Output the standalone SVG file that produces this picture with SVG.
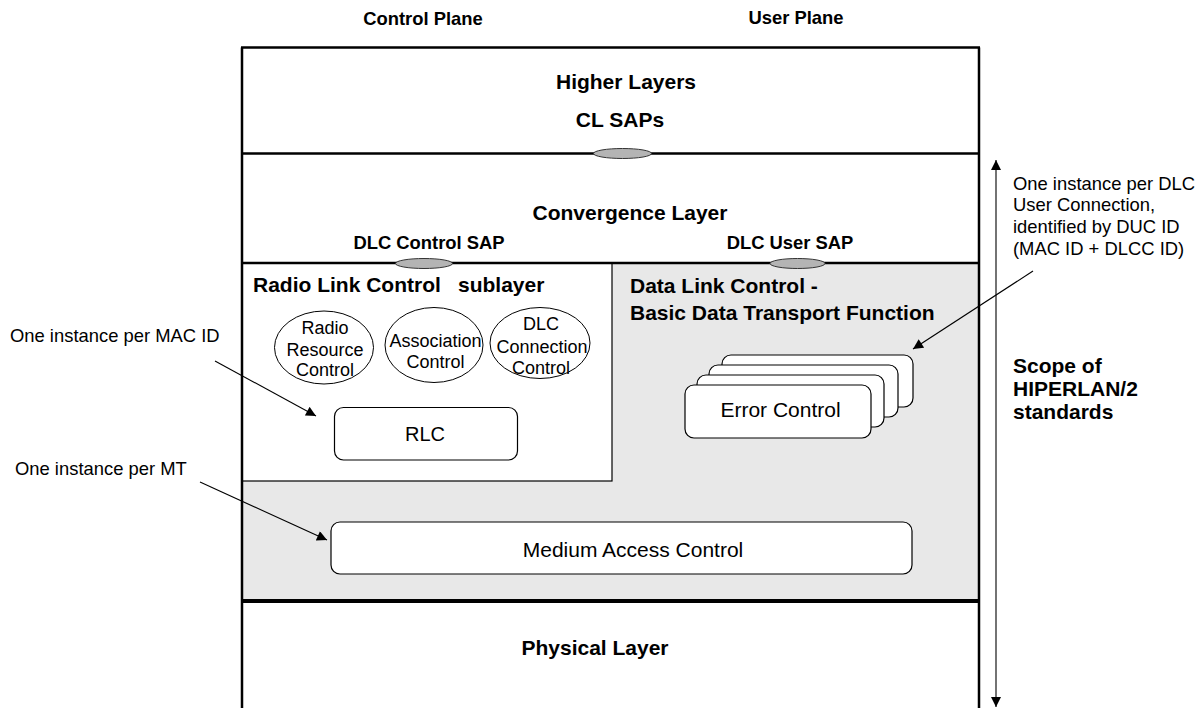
<svg xmlns="http://www.w3.org/2000/svg" width="1203" height="708" viewBox="0 0 1203 708">
<style>
text{font-family:"Liberation Sans",Arial,Helvetica,sans-serif;fill:#000}
.t{font-size:21px;font-weight:bold}
.s{font-size:18.4px;font-weight:bold}
.a{font-size:18.4px}
.e{font-size:18px}
.m{font-size:21px}
.frame{stroke:#000;stroke-width:2.5;fill:none}
.box{fill:#fff;stroke:#000;stroke-width:1.2}
.sap{fill:#b4b4b4;stroke:#333;stroke-width:1}
.con{stroke:#000;stroke-width:1.1;fill:none}
</style>
<defs>
<marker id="ah" viewBox="0 0 10 10" refX="10" refY="5" markerWidth="11" markerHeight="10" markerUnits="userSpaceOnUse" orient="auto-start-reverse">
<path d="M0,0 L10,5 L0,10 z" fill="#000"/>
</marker>
</defs>
<rect width="1203" height="708" fill="#fff"/>
<text class="s" x="423" y="25" text-anchor="middle">Control Plane</text>
<text class="s" x="796" y="24" text-anchor="middle">User Plane</text>
<g id="dlc-layer">
<rect x="242" y="263" width="737" height="338" fill="#e8e8e8"/>
<text class="t" x="630" y="293">Data Link Control -</text>
<text class="t" x="630" y="320">Basic Data Transport Function</text>
</g>
<g id="rlc-sublayer">
<rect x="242" y="263" width="370" height="218" class="box"/>
<text class="t" x="253" y="292">Radio Link Control<tspan x="458">sublayer</tspan></text>
</g>
<g id="frame">
<line x1="242" y1="47.5" x2="242" y2="712" class="frame"/>
<line x1="979" y1="47.5" x2="979" y2="712" class="frame"/>
<line x1="241" y1="47.5" x2="980" y2="47.5" class="frame"/>
<line x1="241" y1="153.5" x2="980" y2="153.5" class="frame"/>
<line x1="241" y1="263" x2="980" y2="263" class="frame"/>
<line x1="241" y1="601" x2="980" y2="601" stroke="#000" stroke-width="4"/>
</g>
<g id="higher-layers">
<text class="t" x="626" y="89" text-anchor="middle">Higher Layers</text>
<text class="t" x="620" y="127" text-anchor="middle">CL SAPs</text>
</g>
<g id="convergence-layer">
<text class="t" x="630" y="220" text-anchor="middle">Convergence Layer</text>
</g>
<g id="cl-sap"><ellipse cx="622.5" cy="153.5" rx="29" ry="5" class="sap"/></g>
<g id="dlc-control-sap">
<text class="s" x="429" y="249" text-anchor="middle">DLC Control SAP</text>
<ellipse cx="424" cy="263.5" rx="28.5" ry="5" class="sap"/>
</g>
<g id="dlc-user-sap">
<text class="s" x="790" y="248.5" text-anchor="middle">DLC User SAP</text>
<ellipse cx="797.5" cy="263.5" rx="27.5" ry="5" class="sap"/>
</g>
<g id="radio-resource-control">
<ellipse cx="324" cy="347.5" rx="49.5" ry="36.5" fill="none" stroke="#000" stroke-width="1"/>
<text class="e" text-anchor="middle"><tspan x="325" y="334">Radio</tspan><tspan x="325" y="356">Resource</tspan><tspan x="325" y="376">Control</tspan></text>
</g>
<g id="association-control">
<ellipse cx="434" cy="345" rx="49" ry="37.5" fill="none" stroke="#000" stroke-width="1"/>
<text class="e" text-anchor="middle"><tspan x="435.5" y="347">Association</tspan><tspan x="435.5" y="368">Control</tspan></text>
</g>
<g id="dlc-connection-control">
<ellipse cx="540" cy="343" rx="50" ry="35.5" fill="none" stroke="#000" stroke-width="1"/>
<text class="e" text-anchor="middle"><tspan x="541" y="330">DLC</tspan><tspan x="542" y="353">Connection</tspan><tspan x="541" y="374">Control</tspan></text>
</g>
<g id="rlc">
<rect x="334.5" y="407.5" width="183" height="52.5" rx="9" class="box"/>
<text class="m" x="425" y="441" text-anchor="middle" style="font-size:20px">RLC</text>
</g>
<g id="error-control">
<rect x="722" y="355" width="191" height="52" rx="9" class="box"/>
<rect x="709" y="365" width="189" height="52" rx="9" class="box"/>
<rect x="697" y="375" width="187" height="52" rx="9" class="box"/>
<rect x="685" y="385" width="186" height="53" rx="9" class="box"/>
<text class="m" x="780.5" y="417" text-anchor="middle">Error Control</text>
</g>
<g id="medium-access-control">
<rect x="331" y="522" width="581" height="52" rx="9" class="box"/>
<text class="m" x="633" y="557" text-anchor="middle">Medium Access Control</text>
</g>
<g id="physical-layer">
<text class="t" x="595" y="655" text-anchor="middle">Physical Layer</text>
</g>
<g id="note-mac-id"><text class="a" x="10" y="342">One instance per MAC ID</text></g>
<g id="note-mt"><text class="a" x="15" y="475">One instance per MT</text></g>
<g id="note-duc">
<text class="a"><tspan x="1013" y="189.5">One instance per DLC</tspan><tspan x="1013" y="211">User Connection,</tspan><tspan x="1013" y="233">identified by DUC ID</tspan><tspan x="1013" y="255">(MAC ID + DLCC ID)</tspan></text>
</g>
<g id="scope">
<text class="t"><tspan x="1013" y="373">Scope of</tspan><tspan x="1013" y="396">HIPERLAN/2</tspan><tspan x="1013" y="418.5">standards</tspan></text>
</g>
<g id="connectors">
<line x1="215" y1="361" x2="316" y2="416" class="con" marker-end="url(#ah)"/>
<line x1="200" y1="482" x2="327" y2="540" class="con" marker-end="url(#ah)"/>
<line x1="1033" y1="271" x2="913" y2="349" class="con" marker-end="url(#ah)"/>
<line x1="996" y1="160" x2="996" y2="707" class="con" marker-start="url(#ah)" marker-end="url(#ah)"/>
</g>
</svg>
